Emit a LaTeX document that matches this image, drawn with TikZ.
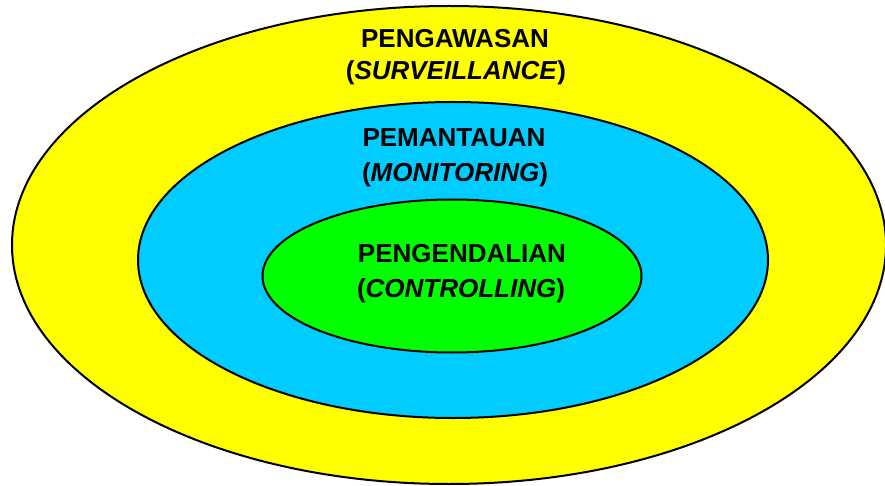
\documentclass[tikz,border=0pt]{standalone}
\usepackage{fontspec}
\setmainfont{Liberation Sans}
\usepackage{tikz}
\usetikzlibrary{shapes.geometric}
\definecolor{ringyellow}{RGB}{255,255,0}
\definecolor{ringblue}{RGB}{0,204,255}
\definecolor{ringgreen}{RGB}{0,255,0}
\tikzstyle{ring} = [ellipse, draw=black, line width=2pt, inner sep=0pt]
\tikzstyle{ringtext} = [anchor=base, inner sep=0pt, font=\fontsize{26}{31}\selectfont\bfseries]

\begin{document}
\begin{tikzpicture}[x=1pt, y=-1pt]
		\useasboundingbox (0,0) rectangle (885,486);
		\node (outer) [ring, fill=ringyellow, minimum width=874pt, minimum height=478pt] at (449,245) {};
		\node (middle) [ring, fill=ringblue, minimum width=630pt, minimum height=316pt] at (453,260) {};
		\node (inner) [ring, fill=ringgreen, minimum width=379pt, minimum height=153pt] at (452,276) {};

		\node (pengawasan) [ringtext] at (455,48) {PENGAWASAN};
		\node (surveillance) [ringtext] at (456,80) {(\textit{SURVEILLANCE})};
		\node (pemantauan) [ringtext] at (454,147) {PEMANTAUAN};
		\node (monitoring) [ringtext] at (455,182) {(\textit{MONITORING})};
		\node (pengendalian) [ringtext] at (462,262) {PENGENDALIAN};
		\node (controlling) [ringtext] at (461,297) {(\textit{CONTROLLING})};
	\end{tikzpicture}
\end{document}
